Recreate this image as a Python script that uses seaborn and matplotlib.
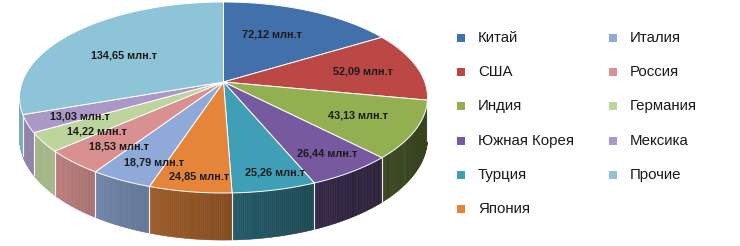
import numpy as np
import matplotlib
matplotlib.use("Agg")
import matplotlib.pyplot as plt
from matplotlib.colors import to_rgb
import seaborn as sns

# ---- data ----
countries = ["Китай", "США", "Индия", "Южная Корея", "Турция", "Япония",
             "Италия", "Россия", "Германия", "Мексика", "Прочие"]
values = [72.12, 52.09, 43.13, 26.44, 25.26, 24.85, 18.79, 18.53, 14.22, 13.03, 134.65]
value_labels = ["72,12 млн.т", "52,09 млн.т", "43,13 млн.т", "26,44 млн.т", "25,26 млн.т",
                "24,85 млн.т", "18,79 млн.т", "18,53 млн.т", "14,22 млн.т", "13,03 млн.т",
                "134,65 млн.т"]

# ---- style ----
sns.set_theme(style="white")
plt.rcParams["font.family"] = ["Liberation Sans", "DejaVu Sans"]

top_colors = ["#4270AB", "#BC4845", "#92B04F", "#76599E", "#3E9FB6", "#E5853A",
              "#8FAAD8", "#D89190", "#BDD49C", "#AA98C6", "#8DC4D8"]
# label placement (radius fraction, angular nudge in degrees)
label_r = [0.61, 0.714, 0.715, 0.819, 0.872, 0.88, 0.821, 0.782, 0.755, 0.76, 0.60]
label_da = [3.8, -1.4, 0.4, 0.6, 2.3, 1.2, 4.1, 4.3, 4.3, 3.1, 4.9]

W, Hh = 740, 246
fig = plt.figure(figsize=(W / 100, Hh / 100), dpi=100)
ax = fig.add_axes([0, 0, 1, 1])
ax.set_xlim(0, W)
ax.set_ylim(Hh, 0)
ax.axis("off")

# perspective projection of a tilted disk
cx, cy = 223.5, 82.0
R, S, K, DEPTH = 201.3, 93.0, 0.1623, 39.4


def proj(r, theta_deg, z=0.0):
    t = np.radians(theta_deg)
    x = r * np.cos(t)
    y = r * np.sin(t)
    w = 1 + K * y
    return cx + R * x / w, cy + (-S * y + DEPTH * z) / w


total = float(np.sum(values))
cum = np.concatenate([[0], np.cumsum(values)])
starts = 90 - 360 * cum[:-1] / total
ends = 90 - 360 * cum[1:] / total

vis_lo = -180 + np.degrees(np.arcsin(K))   # left silhouette
vis_hi = -np.degrees(np.arcsin(K))         # right silhouette


def shade(theta):
    th = theta % 360
    return float(np.clip(0.86 - (th - 222) * 0.0058, 0.38, 0.86))


# ---- side walls ----
for i in range(len(values)):
    a0 = max(ends[i], vis_lo)
    a1 = min(starts[i], vis_hi)
    if a1 <= a0:
        continue
    n = max(2, int((a1 - a0) / 0.5) + 1)
    th = np.linspace(a0, a1, n)
    base = np.array(to_rgb(top_colors[i]))
    for j in range(n - 1):
        p1 = proj(1, th[j], 0)
        p2 = proj(1, th[j + 1], 0)
        p3 = proj(1, th[j + 1], 1)
        p4 = proj(1, th[j], 1)
        c = tuple(base * shade((th[j] + th[j + 1]) / 2))
        ax.fill([p1[0], p2[0], p3[0], p4[0]], [p1[1], p2[1], p3[1], p4[1]],
                color=c, lw=0.4, ec=c, zorder=1)
    for a in (a0, a1):
        if vis_lo < a < vis_hi:
            q1 = proj(1, a, 0)
            q2 = proj(1, a, 1)
            ax.plot([q1[0], q2[0]], [q1[1], q2[1]], color="white", lw=0.8,
                    alpha=0.7, zorder=2)

# ---- top faces ----
for i in range(len(values)):
    th = np.linspace(starts[i], ends[i], 200)
    px, py = proj(1, th, 0)
    xs = np.concatenate([[cx], px])
    ys = np.concatenate([[cy], py])
    ax.fill(xs, ys, color=top_colors[i], ec="white", lw=0.7, zorder=3)

# ---- labels ----
for i in range(len(values)):
    mid = (starts[i] + ends[i]) / 2 + label_da[i]
    lx, ly = proj(label_r[i], mid, 0)
    ax.text(lx, ly, value_labels[i], ha="center", va="center", fontsize=7.8,
            fontweight="bold", color="#1a1a1a", zorder=5)

# ---- legend ----
row_y0, row_dy = 38, 34.2
col_mx = [461, 613]
for i, name in enumerate(countries):
    col, row = divmod(i, 6)
    y = row_y0 + row * row_dy
    ax.scatter([col_mx[col]], [y], marker="s", s=36, color=top_colors[i],
               linewidths=0, zorder=5)
    ax.text(col_mx[col] + 17, y, name, ha="left", va="center", fontsize=10.8,
            color="#1a1a1a", zorder=5)

fig.savefig("out.png", dpi=100)
